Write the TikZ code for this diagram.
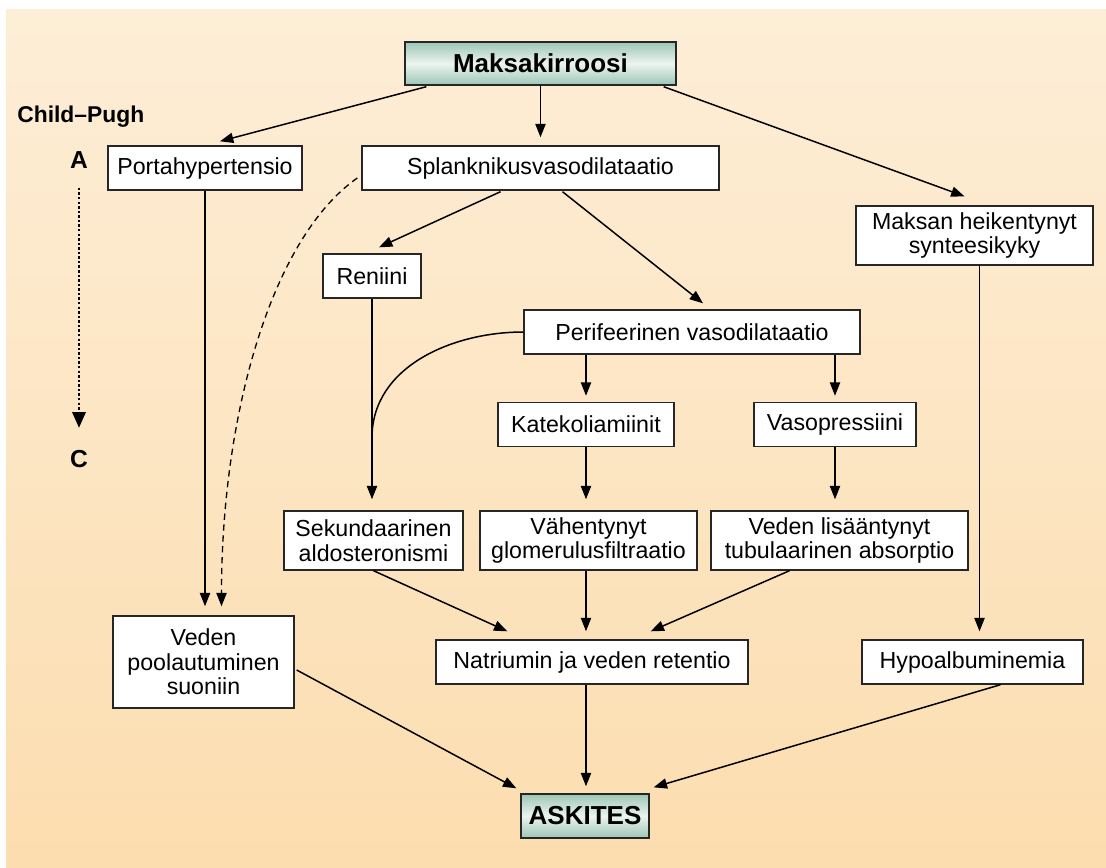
\documentclass[tikz,border=0pt]{standalone}
\usepackage{fontspec}
\setmainfont{Liberation Sans}
\usetikzlibrary{arrows.meta,calc}
\definecolor{bgtop}{RGB}{253,238,215}
\definecolor{bgbot}{RGB}{252,221,175}
\definecolor{tealdark}{RGB}{156,198,181}
\definecolor{teallight}{RGB}{236,244,240}
\tikzset{
  box/.style={rectangle, draw=black!85, line width=0.8pt, fill=white, inner sep=0pt,
    align=center, minimum height=0.88cm, font=\fontsize{13.2}{14}\selectfont},
  headbox/.style={box, top color=tealdark, bottom color=tealdark, middle color=teallight,
    font=\fontsize{14.8}{16}\selectfont\bfseries},
  arr/.style={-{Triangle[length=7.6pt,width=5.8pt]}, line width=0.85pt},
  grade/.style={font=\fontsize{13}{14}\selectfont\bfseries, inner sep=0pt}
}

\begin{document}
\begin{tikzpicture}[x=0.02cm, y=-0.02cm]
  \useasboundingbox (0,0) rectangle (1106,867);
  \shade[top color=bgtop, bottom color=bgbot] (6,9) rectangle (1106,867);

  % Child-Pugh scale
  \node[grade, anchor=base west] (cp) at (17,122) {Child–Pugh};
  \node[grade, font=\fontsize{14}{15}\selectfont\bfseries] (gA) at (79,160) {A};
  \node[grade, font=\fontsize{14}{15}\selectfont\bfseries] (gC) at (79,459) {C};
  \draw[-{Triangle[length=9pt,width=7.4pt]}, line width=1.7pt, dash pattern=on 1.4pt off 1.2pt]
    ($(gA.south)+(0,19)$) -- ($(gC.north)+(0,-22)$);

  % boxes
  \node[headbox, minimum width=5.42cm, minimum height=0.86cm] (maks) at (540.5,63.5) {Maksakirroosi};
  \node[box, minimum width=3.88cm] (porta) at (205,168) {Portahypertensio};
  \node[box, minimum width=7.14cm] (splank) at (540.5,168) {Splanknikusvasodilataatio};
  \node[box, minimum width=4.74cm, minimum height=1.18cm] (synt) at (974.5,235.5) {Maksan heikentynyt\\synteesikyky};
  \node[box, minimum width=1.96cm] (renin) at (372,276) {Reniini};
  \node[box, minimum width=6.72cm] (perif) at (692,332) {Perifeerinen vasodilataatio};
  \node[box, minimum width=3.52cm] (kate) at (586,424.5) {Katekoliamiinit};
  \node[box, minimum width=3.24cm] (vaso) at (835,424.5) {Vasopressiini};
  \node[box, minimum width=3.58cm, minimum height=1.18cm] (sekund) at (373.5,540.5) {Sekundaarinen\\aldosteronismi};
  \node[box, minimum width=4.34cm, minimum height=1.18cm] (vahent) at (588.5,540.5) {Vähentynyt\\glomerulusfiltraatio};
  \node[box, minimum width=5.14cm, minimum height=1.18cm] (vedlis) at (839.5,540.5) {Veden lisääntynyt\\tubulaarinen absorptio};
  \node[box, minimum width=3.62cm, minimum height=1.84cm] (pool) at (203.5,662) {Veden\\poolautuminen\\suoniin};
  \node[box, minimum width=6.24cm] (natr) at (592,662) {Natriumin ja veden retentio};
  \node[box, minimum width=4.42cm] (hypo) at (972.5,662) {Hypoalbuminemia};
  \node[headbox, minimum width=2.56cm] (askites) at (585,816) {ASKITES};

  % connectors
  \draw[arr] ($(maks.south west)+(22,1)$) -- ($(porta.north)+(15,-4)$);
  \draw[arr] (maks.south) -- ($(splank.north)+(0,-8)$);
  \draw[arr] ($(maks.south east)+(-13,1)$) -- ($(synt.north)+(-10,-9)$);
  \draw[arr] ($(splank.south)+(-40,1)$) -- ($(renin.north)+(7,-6)$);
  \draw[arr] ($(splank.south)+(22,1)$) -- ($(perif.north)+(11,-6)$);
  \draw[arr] (porta.south) -- ($(porta.south |- pool.north)+(0,-9)$);
  \draw[arr, line width=0.75pt, dash pattern=on 3.6pt off 2.6pt]
    ($(splank.west)+(-4,10)$) .. controls ($(splank.west)+(-90,70)$) and ($(pool.north)+(18,-200)$)
    .. ($(pool.north)+(18,-9)$);
  \draw[arr] (renin.south) -- ($(renin.south |- sekund.north)+(0,-11)$);
  \coordinate (merge) at ($(renin.south)+(0,139)$);
  \draw[line width=0.85pt] (perif.west) .. controls ($(perif.west)+(-71,0)$) and ($(merge)+(0,-71)$) .. (merge);
  \draw[arr] (kate |- perif.south) -- ($(kate.north)+(0,-6)$);
  \draw[arr] (vaso |- perif.south) -- ($(vaso.north)+(0,-6)$);
  \draw[arr] (kate.south) -- ($(kate.south |- vahent.north)+(0,-11)$);
  \draw[arr] (vaso.south) -- ($(vaso.south |- vedlis.north)+(0,-11)$);
  \draw[arr] ($(synt.south)+(5,0)$) -- ($(synt.south |- hypo.north)+(5,-8)$);
  \draw[arr] (sekund.south) -- ($(natr.north west)+(72,-8)$);
  \draw[arr] (kate |- vahent.south) -- ($(kate |- natr.north)+(0,-8)$);
  \draw[arr] ($(vedlis.south)+(-50,0)$) -- ($(natr.north east)+(-98,-8)$);
  \draw[arr] ($(pool.east)+(2,8)$) -- ($(askites.north west)+(-4,-5)$);
  \draw[arr] (kate |- natr.south) -- ($(kate |- askites.north)+(0,-7)$);
  \draw[arr] ($(hypo.south)+(28,0)$) -- ($(askites.north east)+(4,-6)$);
\end{tikzpicture}
\end{document}
